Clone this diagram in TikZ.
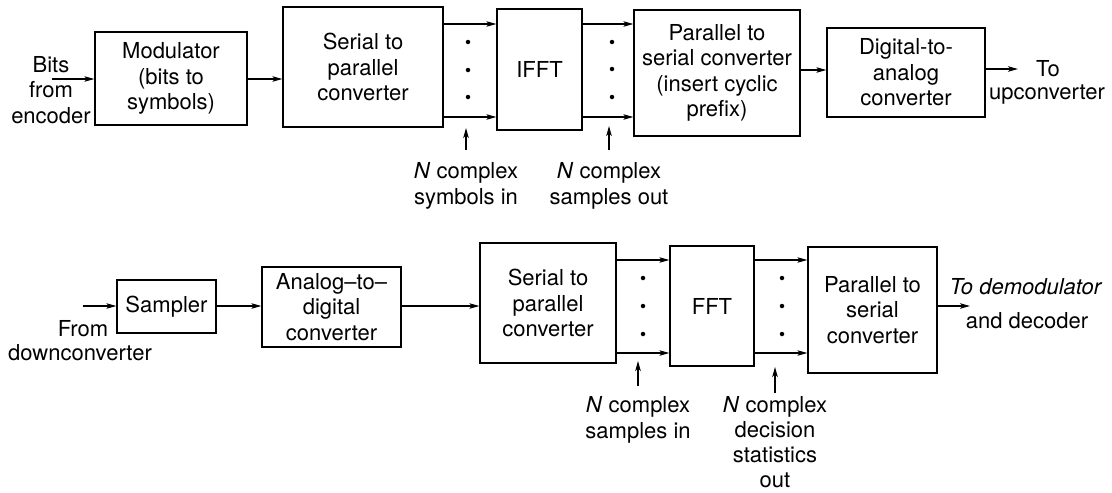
\documentclass[tikz,border=0pt]{standalone}
\usepackage{fontspec}
\setmainfont{TeX Gyre Heros}
\usetikzlibrary{arrows.meta}
\begin{document}
\begin{tikzpicture}[x=1pt,y=-1pt,
  every node/.style={font=\fontsize{22}{25.5}\selectfont},
  blk/.style={draw, line width=1.3pt, rectangle, align=center, inner sep=0pt},
  lbl/.style={align=center, inner sep=0pt},
  arr/.style={line width=1.2pt, -{Stealth[length=10pt,width=5.5pt,inset=2.5pt]}},
  dotmark/.style={circle, fill, inner sep=0pt, minimum size=4.5pt}]
\useasboundingbox (0,0) rectangle (1112,493);

% ---------------- transmitter ----------------
\node[blk, minimum width=152pt, minimum height=93pt]  (mod)  at (171,78.5)  {Modulator\\(bits to\\symbols)};
\node[blk, minimum width=160pt, minimum height=120pt] (sp1)  at (363,67)    {Serial to\\parallel\\converter};
\node[blk, minimum width=85pt,  minimum height=121pt] (ifft) at (539.5,69.5) {IFFT};
\node[blk, minimum width=166pt, minimum height=126pt] (ps1)  at (717,73)    {Parallel to\\serial converter\\(insert cyclic\\prefix)};
\node[blk, minimum width=158pt, minimum height=89pt]  (dac)  at (906,72.5)  {Digital-to-\\analog\\converter};

\node[lbl] (bits) at (51,90) {Bits\\from\\encoder};
\coordinate (bitsin) at (52,79);
\coordinate (tmid) at (0,79);
\coordinate (ta) at (0,24);
\coordinate (tb) at (0,117);
\coordinate (tdac) at (0,70);
\coordinate (toup) at (1018,69);

\draw[arr] (bitsin) -- (bitsin -| mod.west);
\draw[arr] (mod.east |- tmid) -- (sp1.west |- tmid);
\draw[arr] (sp1.east |- ta) -- (ifft.west |- ta);
\draw[arr] (sp1.east |- tb) -- (ifft.west |- tb);
\draw[arr] (ifft.east |- ta) -- (ps1.west |- ta);
\draw[arr] (ifft.east |- tb) -- (ps1.west |- tb);
\draw[arr] (ps1.east |- tdac) -- (dac.west |- tdac);
\draw[arr] (dac.east |- toup) -- (toup);
\node[lbl] (to1) at (1048,69) {To};
\node[lbl] (up1) at (1047,95) {upconverter};

\node[dotmark] (da1) at (468,42) {};
\node[dotmark] (da2) at (468,70) {};
\node[dotmark] (da3) at (468,97) {};
\node[dotmark] (db1) at (612,42) {};
\node[dotmark] (db2) at (612,69) {};
\node[dotmark] (db3) at (612,97) {};

\coordinate (u1s) at (466,150); \coordinate (u1e) at (466,128);
\coordinate (u2s) at (609,150); \coordinate (u2e) at (609,126);
\draw[arr] (u1s) -- (u1e);
\draw[arr] (u2s) -- (u2e);
\node[lbl] (n1) at (466,186) {\textit{N} complex\\symbols in};
\node[lbl] (n2) at (609,186) {\textit{N} complex\\samples out};

% ---------------- receiver ----------------
\node[blk, minimum width=99pt,  minimum height=53pt]  (samp) at (166.5,306.5) {Sampler};
\node[blk, minimum width=139pt, minimum height=80pt]  (adc)  at (331.5,307)   {Analog\textendash to\textendash\\digital\\converter};
\node[blk, minimum width=136pt, minimum height=120pt] (sp2)  at (548,303)     {Serial to\\parallel\\converter};
\node[blk, minimum width=84pt,  minimum height=120pt] (fft)  at (712,306)     {FFT};
\node[blk, minimum width=129pt, minimum height=126pt] (ps2)  at (872.5,310)   {Parallel to\\serial\\converter};

\coordinate (sin) at (83,306);
\coordinate (bm) at (0,306);
\coordinate (ba) at (0,260);
\coordinate (bb) at (0,353);
\coordinate (todem) at (970,306);

\draw[arr] (sin) -- (sin -| samp.west);
\node[lbl] (from) at (83,329) {From};
\node[lbl] (down) at (80,353) {downconverter};

\draw[arr] (samp.east |- bm) -- (adc.west |- bm);
\draw[arr] (adc.east |- bm) -- (sp2.west |- bm);
\draw[arr] (sp2.east |- ba) -- (fft.west |- ba);
\draw[arr] (sp2.east |- bb) -- (fft.west |- bb);
\draw[arr] (fft.east |- ba) -- (ps2.west |- ba);
\draw[arr] (fft.east |- bb) -- (ps2.west |- bb);
\draw[arr] (ps2.east |- bm) -- (todem);
\node[lbl] (dem) at (1026,287) {\textit{To demodulator}};
\node[lbl] (dec) at (1027,321) {and decoder};

\node[dotmark] (dc1) at (643,278) {};
\node[dotmark] (dc2) at (643,306) {};
\node[dotmark] (dc3) at (643,334) {};
\node[dotmark] (dd1) at (782,278) {};
\node[dotmark] (dd2) at (782,306) {};
\node[dotmark] (dd3) at (782,334) {};

\coordinate (u3s) at (638,386); \coordinate (u3e) at (638,361);
\coordinate (u4s) at (775,393); \coordinate (u4e) at (775,367);
\draw[arr] (u3s) -- (u3e);
\draw[arr] (u4s) -- (u4e);
\node[lbl] (n3) at (638,420) {\textit{N} complex\\samples in};
\node[lbl, font=\fontsize{22}{25}\selectfont] (n4) at (775,442) {\textit{N} complex\\decision\\statistics\\out};
\end{tikzpicture}
\end{document}
